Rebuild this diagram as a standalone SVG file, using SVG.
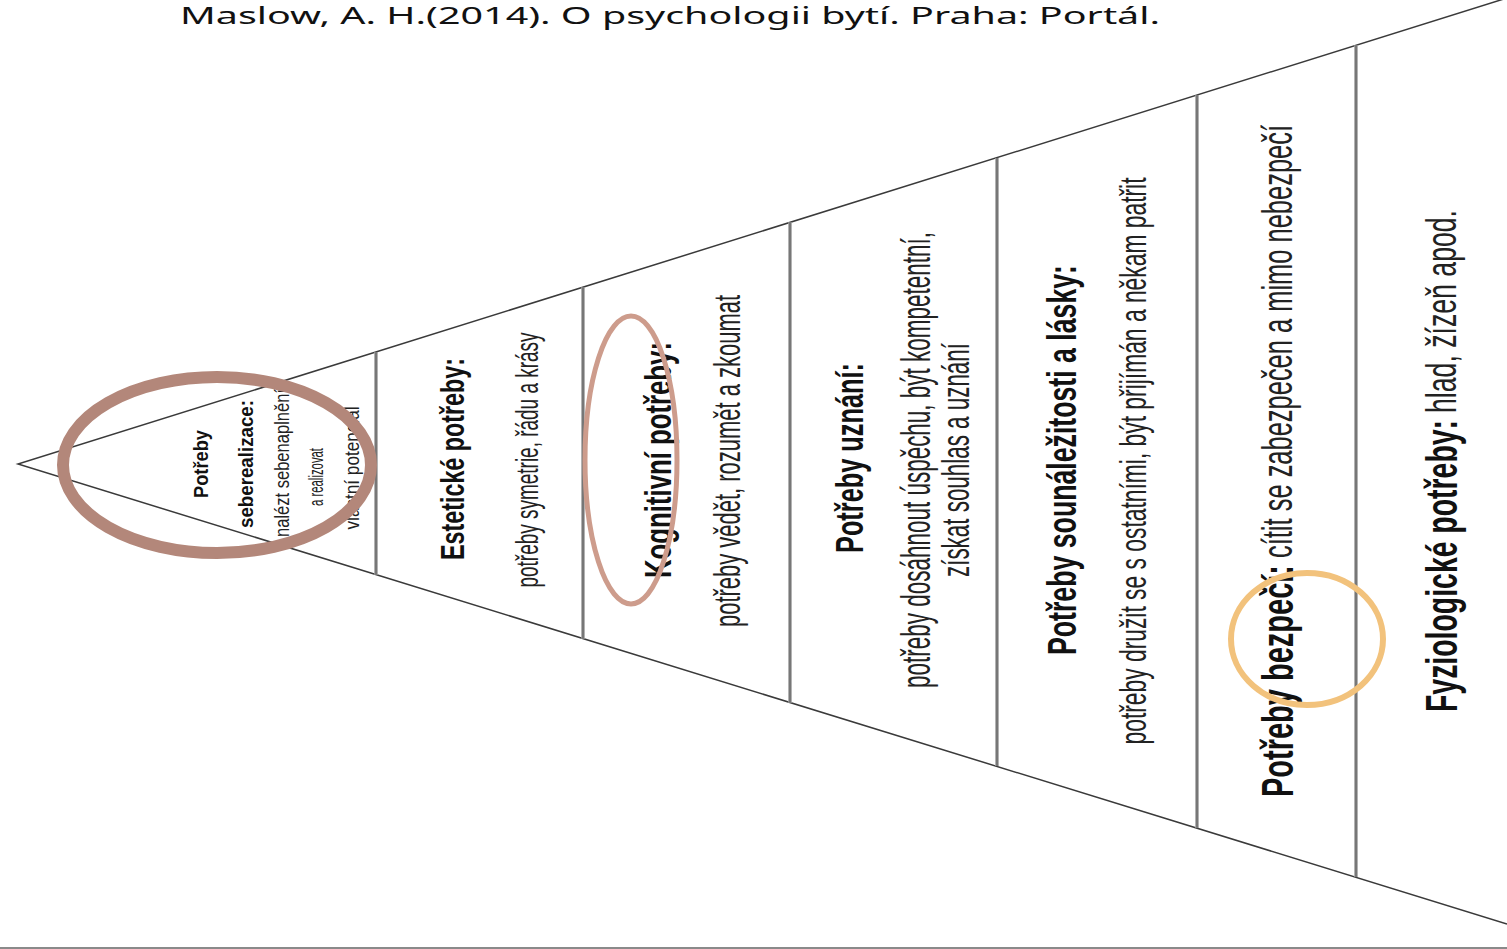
<svg xmlns="http://www.w3.org/2000/svg" width="1507" height="949" viewBox="0 0 1507 949">
<style>
.b{font-family:"Liberation Sans",Arial,sans-serif;font-weight:bold;fill:#111;}
.r{font-family:"Liberation Sans",Arial,sans-serif;fill:#222;}
.edge{fill:none;stroke:#3a3a3a;stroke-width:1.5;}
.divA{stroke:#9a9a9a;stroke-width:3.5;}
.divB{stroke:#555;stroke-width:1;}
.ring{fill:none;}
</style>
<rect x="0" y="0" width="1507" height="949" fill="#fff"/>
<g id="citation">
<text x="180" y="24" font-family="'Noto Sans','Liberation Sans',sans-serif" font-size="23" fill="#111" textLength="980" lengthAdjust="spacingAndGlyphs">Maslow, A. H.(2014). O psychologii bytí. Praha: Portál.</text>
</g>
<g id="pyramid">
<polyline class="edge" points="1507,-2 18,464 1507,924"/>
<line x1="0" y1="948" x2="1507" y2="948" stroke="#8a8a8a" stroke-width="2"/>
</g>
<g id="connectors">
<line class="divA" x1="376" y1="352" x2="376" y2="575"/><line class="divB" x1="376" y1="352" x2="376" y2="575"/>
<line class="divA" x1="583" y1="287" x2="583" y2="639"/><line class="divB" x1="583" y1="287" x2="583" y2="639"/>
<line class="divA" x1="790" y1="222" x2="790" y2="703"/><line class="divB" x1="790" y1="222" x2="790" y2="703"/>
<line class="divA" x1="997" y1="158" x2="997" y2="766"/><line class="divB" x1="997" y1="158" x2="997" y2="766"/>
<line class="divA" x1="1197" y1="95" x2="1197" y2="828"/><line class="divB" x1="1197" y1="95" x2="1197" y2="828"/>
<line class="divA" x1="1356" y1="45" x2="1356" y2="877"/><line class="divB" x1="1356" y1="45" x2="1356" y2="877"/>
</g>
<g id="level-seberealizace">
<text class="b" font-size="21" text-anchor="middle" transform="translate(208,464) rotate(-90)" textLength="68" lengthAdjust="spacingAndGlyphs">Potřeby</text>
<text class="b" font-size="21" text-anchor="middle" transform="translate(253,464) rotate(-90)" textLength="128" lengthAdjust="spacingAndGlyphs">seberealizace:</text>
<text class="r" font-size="21" text-anchor="middle" transform="translate(289,463) rotate(-90)" textLength="148" lengthAdjust="spacingAndGlyphs">nalézt sebenaplnění</text>
<text class="r" font-size="21" text-anchor="middle" transform="translate(323,477) rotate(-90)" textLength="58" lengthAdjust="spacingAndGlyphs">a realizovat</text>
<text class="r" font-size="21" text-anchor="middle" transform="translate(359,468) rotate(-90)" textLength="123" lengthAdjust="spacingAndGlyphs">vlastní potenciál</text>
</g>
<g id="level-esteticke">
<text class="b" font-size="33" text-anchor="middle" transform="translate(464,459) rotate(-90)" textLength="202" lengthAdjust="spacingAndGlyphs">Estetické potřeby:</text>
<text class="r" font-size="32" text-anchor="middle" transform="translate(538,460) rotate(-90)" textLength="255" lengthAdjust="spacingAndGlyphs">potřeby symetrie, řádu a krásy</text>
</g>
<g id="level-kognitivni">
<text class="b" font-size="37" text-anchor="middle" transform="translate(671,460) rotate(-90)" textLength="236" lengthAdjust="spacingAndGlyphs">Kognitivní potřeby:</text>
<text class="r" font-size="36" text-anchor="middle" transform="translate(740,461) rotate(-90)" textLength="332" lengthAdjust="spacingAndGlyphs">potřeby vědět, rozumět a zkoumat</text>
</g>
<g id="level-uznani">
<text class="b" font-size="38" text-anchor="middle" transform="translate(863,458) rotate(-90)" textLength="190" lengthAdjust="spacingAndGlyphs">Potřeby uznání:</text>
<text class="r" font-size="40" text-anchor="middle" transform="translate(930,460) rotate(-90)" textLength="456" lengthAdjust="spacingAndGlyphs">potřeby dosáhnout úspěchu, být kompetentní,</text>
<text class="r" font-size="38" text-anchor="middle" transform="translate(969,460) rotate(-90)" textLength="234" lengthAdjust="spacingAndGlyphs">získat souhlas a uznání</text>
</g>
<g id="level-sounalezitost">
<text class="b" font-size="40" text-anchor="middle" transform="translate(1076,460) rotate(-90)" textLength="390" lengthAdjust="spacingAndGlyphs">Potřeby sounáležitosti a lásky:</text>
<text class="r" font-size="36" text-anchor="middle" transform="translate(1146,461) rotate(-90)" textLength="567" lengthAdjust="spacingAndGlyphs">potřeby družit se s ostatními, být přijímán a někam patřit</text>
</g>
<g id="level-bezpeci">
<text class="b" font-size="44" transform="translate(1293,797) rotate(-90)" textLength="232" lengthAdjust="spacingAndGlyphs">Potřeby bezpečí:</text>
<text class="r" font-size="42" transform="translate(1292,558) rotate(-90)" textLength="433" lengthAdjust="spacingAndGlyphs">cítit se zabezpečen a mimo nebezpečí</text>
</g>
<g id="level-fyziologicke">
<text class="b" font-size="44" transform="translate(1457,712) rotate(-90)" textLength="292" lengthAdjust="spacingAndGlyphs">Fyziologické potřeby:</text>
<text class="r" font-size="42" transform="translate(1456,413) rotate(-90)" textLength="203" lengthAdjust="spacingAndGlyphs">hlad, žízeň apod.</text>
</g>
<g id="highlights">
<ellipse class="ring" cx="217" cy="465" rx="154" ry="88" stroke="#B3877A" stroke-width="12"/>
<ellipse class="ring" cx="631" cy="460" rx="46" ry="144" stroke="#CD9C8C" stroke-width="5"/>
<ellipse class="ring" cx="1307" cy="639" rx="76" ry="66" stroke="#F2C27C" stroke-width="6"/>
</g>
</svg>
